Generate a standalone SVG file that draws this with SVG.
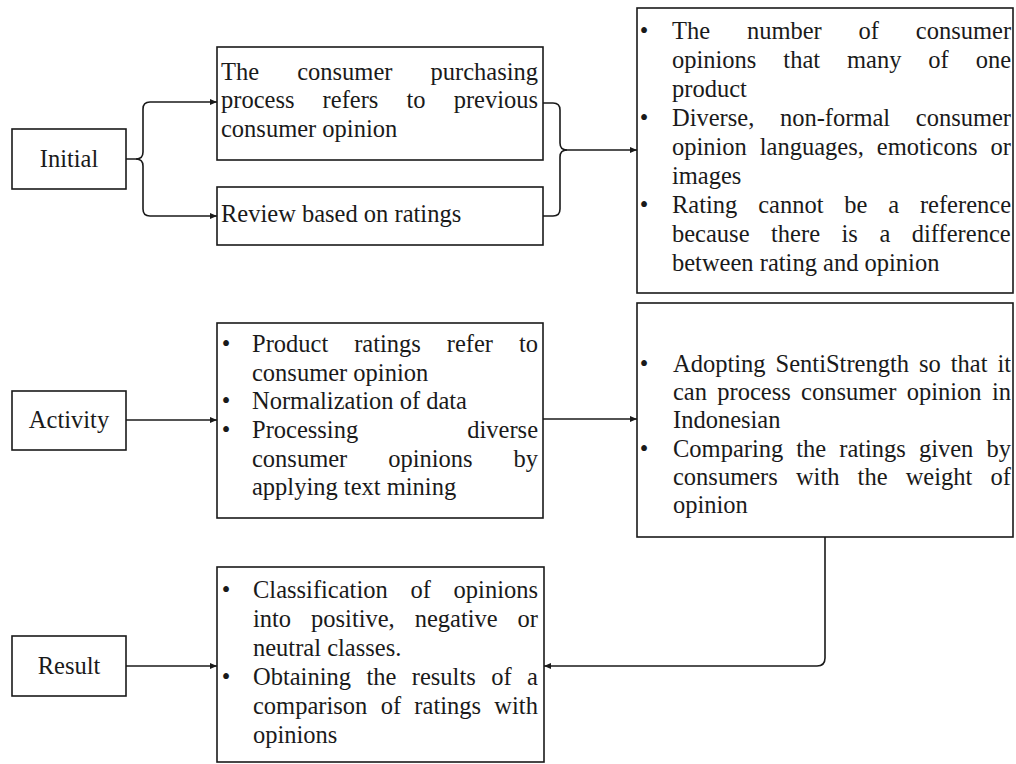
<svg xmlns="http://www.w3.org/2000/svg" width="1016" height="764" viewBox="0 0 1016 764" font-family="Liberation Serif, Times New Roman, serif">
<defs>
<style>
.box{fill:#fff;stroke:#1a1a1a;stroke-width:1.6}
.con{fill:none;stroke:#1a1a1a;stroke-width:1.6}
text{font-family:"Liberation Serif","Times New Roman",serif;font-size:24.5px;fill:#1a1a1a}
.lbl{text-anchor:middle}
.bul{text-anchor:middle}
</style>
<marker id="arr" markerWidth="8" markerHeight="8" refX="7" refY="4" orient="auto" markerUnits="userSpaceOnUse">
<path d="M0,1 L7,4 L0,7 Z" fill="#1a1a1a"/>
</marker>
</defs>
<rect width="1016" height="764" fill="#fff"/>

<g id="connectors">
<path class="con" d="M126,159 H136 Q143,159 143,152 V109 Q143,102 150,102 H217" marker-end="url(#arr)"/>
<path class="con" d="M136,159 Q143,159 143,166 V209 Q143,216 150,216 H217" marker-end="url(#arr)"/>
<path class="con" d="M543,103 H553 Q560,103 560,110 V143 Q560,150 567,150 H637" marker-end="url(#arr)"/>
<path class="con" d="M543,216 H553 Q560,216 560,209 V157 Q560,150 567,150"/>
<path class="con" d="M126,420 H217" marker-end="url(#arr)"/>
<path class="con" d="M543,419 H637" marker-end="url(#arr)"/>
<path class="con" d="M126,666 H217" marker-end="url(#arr)"/>
<path class="con" d="M825,537 V658 Q825,666 817,666 H544" marker-end="url(#arr)"/>
</g>

<g id="initial">
<rect class="box" x="12" y="129" width="114" height="60"/>
<text class="lbl" x="69" y="167">Initial</text>
</g>

<g id="activity">
<rect class="box" x="12" y="391" width="114" height="59"/>
<text class="lbl" x="69" y="428">Activity</text>
</g>

<g id="result">
<rect class="box" x="12" y="636" width="114" height="60"/>
<text class="lbl" x="69" y="674">Result</text>
</g>

<g id="purchasing">
<rect class="box" x="217" y="47" width="326" height="113"/>
<text x="221" y="80" word-spacing="32">The consumer purchasing</text>
<text x="221" y="108" word-spacing="22">process refers to previous</text>
<text x="221" y="137">consumer opinion</text>
</g>

<g id="review">
<rect class="box" x="217" y="187" width="326" height="58"/>
<text x="221" y="222">Review based on ratings</text>
</g>

<g id="problems">
<rect class="box" x="637" y="8" width="376" height="285"/>
<text class="bul" x="644" y="39">•</text>
<text x="672" y="39" word-spacing="30.7">The number of consumer</text>
<text x="672" y="68" word-spacing="20.8">opinions that many of one</text>
<text x="672" y="97">product</text>
<text class="bul" x="644" y="126">•</text>
<text x="672" y="126" word-spacing="19.5">Diverse, non-formal consumer</text>
<text x="672" y="155" word-spacing="6.8">opinion languages, emoticons or</text>
<text x="672" y="184">images</text>
<text class="bul" x="644" y="213">•</text>
<text x="672" y="213" word-spacing="14.7">Rating cannot be a reference</text>
<text x="672" y="242" word-spacing="15.4">because there is a difference</text>
<text x="672" y="271">between rating and opinion</text>
</g>

<g id="activities">
<rect class="box" x="217" y="323" width="326" height="195"/>
<text class="bul" x="226" y="352">•</text>
<text x="252" y="352" word-spacing="19.8">Product ratings refer to</text>
<text x="252" y="381">consumer opinion</text>
<text class="bul" x="226" y="409">•</text>
<text x="252" y="409">Normalization of data</text>
<text class="bul" x="226" y="438">•</text>
<text x="252" y="438" word-spacing="103">Processing diverse</text>
<text x="252" y="467" word-spacing="34.8">consumer opinions by</text>
<text x="252" y="495">applying text mining</text>
</g>

<g id="sentistrength">
<rect class="box" x="637" y="303" width="376" height="234"/>
<text class="bul" x="644" y="372">•</text>
<text x="673" y="372" word-spacing="3.9">Adopting SentiStrength so that it</text>
<text x="673" y="400" word-spacing="4.2">can process consumer opinion in</text>
<text x="673" y="428">Indonesian</text>
<text class="bul" x="644" y="457">•</text>
<text x="673" y="457" word-spacing="6.9">Comparing the ratings given by</text>
<text x="673" y="485" word-spacing="12">consumers with the weight of</text>
<text x="673" y="513">opinion</text>
</g>

<g id="results">
<rect class="box" x="217" y="567" width="327" height="195"/>
<text class="bul" x="226" y="598">•</text>
<text x="253" y="598" word-spacing="16.6">Classification of opinions</text>
<text x="253" y="627" word-spacing="13.8">into positive, negative or</text>
<text x="253" y="656">neutral classes.</text>
<text class="bul" x="226" y="685">•</text>
<text x="253" y="685" word-spacing="9.3">Obtaining the results of a</text>
<text x="253" y="714" word-spacing="7.2">comparison of ratings with</text>
<text x="253" y="743">opinions</text>
</g>
</svg>
